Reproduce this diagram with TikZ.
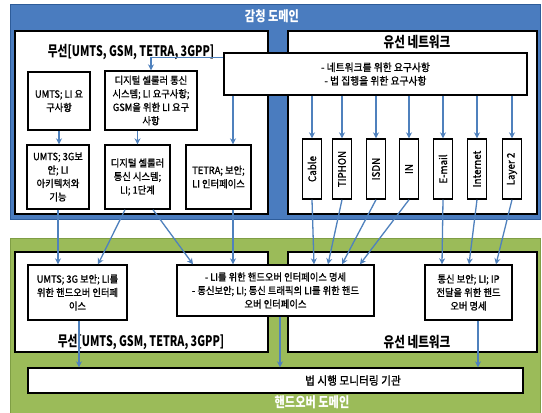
\documentclass[tikz,border=0pt]{standalone}
\usepackage{fontspec}
\usepackage{graphicx}
\setmainfont{Noto Sans CJK KR}[FakeStretch=0.93,FakeBold=1.2]
\newfontfamily\ttlfont{Noto Sans CJK KR}[FakeStretch=0.74]
\newfontfamily\dttlfont{Noto Sans CJK KR}[FakeStretch=0.8]
\usetikzlibrary{arrows.meta,calc}
\definecolor{dblue}{HTML}{4A7CBF}
\definecolor{dblueb}{HTML}{2E5C99}
\definecolor{dgreen}{HTML}{9BBB59}
\definecolor{dgreenb}{HTML}{7F9E45}
\definecolor{arrc}{HTML}{4F81BD}
\begin{document}
\begin{tikzpicture}[x=1pt,y=-1pt,
  box/.style={draw=black,line width=1.4pt,fill=white,inner sep=1pt,align=center,
    font=\fontsize{10}{13.5}\selectfont},
  vbox/.style={draw=black,line width=1.4pt,fill=white,inner sep=0pt,
    minimum width=19,minimum height=60,font=\fontsize{10.5}{11}\selectfont},
  panel/.style={draw=black,line width=1.4pt,fill=white},
  ptitle/.style={font=\ttlfont\bfseries\fontsize{14.5}{15}\selectfont,inner sep=0pt},
  wtitle/.style={font=\dttlfont\bfseries\fontsize{14.5}{15}\selectfont,inner sep=0pt},
  dtitle/.style={font=\dttlfont\bfseries\fontsize{14}{15}\selectfont,text=white,inner sep=0pt},
  arr/.style={-{Stealth[length=6pt,width=6pt]},draw=arrc,line width=1.3pt}]
\useasboundingbox (0,0) rectangle (542,413);
% domains
\fill[white] (0,0) rectangle (542,413);
\draw[fill=dblue,draw=dblueb,line width=1pt] (10,4) rectangle (540,219);
\draw[fill=dgreen,draw=dgreenb,line width=1pt] (10,238) rectangle (540,413);
\node[dtitle] (dtop) at (272,16) {감청 도메인};
\node[dtitle] (dbot) at (312,402) {핸드오버 도메인};
% panels
\draw[panel] (15,31) rectangle (268,214);
\draw[panel] (288,31) rectangle (537,214);
\draw[panel] (15,252) rectangle (268,352);
\draw[panel] (288,252) rectangle (537,352);
\node[ptitle] (t1) at (131,52) {무선[UMTS, GSM, TETRA, 3GPP]};
\node[wtitle] (t2) at (417,42) {유선 네트워크};
\node[ptitle] (t3) at (141,342) {무선[UMTS, GSM, TETRA, 3GPP]};
\node[wtitle] (t4) at (417,342) {유선 네트워크};
% upper boxes
\node[box,minimum width=303,minimum height=42,font=\fontsize{10.5}{13.5}\selectfont] (req) at (375.5,74)
  {- 네트워크를 위한 요구사항\\- 법 집행을 위한 요구사항};
\node[box,minimum width=62,minimum height=58] (umtsli) at (59,101) {UMTS; LI 요\\구사항};
\node[box,minimum width=92,minimum height=59] (dreq) at (151,100.5)
  {디지털 셀룰러 통신\\시스템; LI 요구사항;\\GSM을 위한 LI 요구\\사항};
\node[box,minimum width=62,minimum height=64] (umts3g) at (58,177) {UMTS; 3G보\\안; LI\\아키텍처와\\기능};
\node[box,minimum width=65,minimum height=64] (dli1) at (137.5,177) {디지털 셀룰러\\통신 시스템;\\LI; 1단계};
\node[box,minimum width=65,minimum height=64] (tetra) at (218.5,177) {TETRA; 보안;\\LI 인터페이스};
\node[vbox] (cable) at (312,169) {\rotatebox{90}{Cable}};
\node[vbox] (tiphon) at (342,169) {\rotatebox{90}{TIPHON}};
\node[vbox] (isdn) at (376,169) {\rotatebox{90}{ISDN}};
\node[vbox] (in) at (409,169) {\rotatebox{90}{IN}};
\node[vbox] (email) at (443,169) {\rotatebox{90}{E-mail}};
\node[vbox] (internet) at (477,169) {\rotatebox{90}{Internet}};
\node[vbox] (layer) at (512,169) {\rotatebox{90}{Layer 2}};
% lower boxes
\node[box,minimum width=99,minimum height=55] (umtsho) at (77.5,292.5)
  {UMTS; 3G 보안; LI를\\위한 핸드오버 인터페\\이스};
\node[box,minimum width=197,minimum height=51] (liho) at (275.5,290.5)
  {- LI를 위한 핸드오버 인터페이스 명세\\- 통신보안; LI; 통신 트래픽의 LI를 위한 핸드\\오버 인터페이스};
\node[box,minimum width=87,minimum height=55] (ipho) at (468.5,292.5)
  {통신 보안; LI; IP\\전달을 위한 핸드\\오버 명세};
\node[box,minimum width=495,minimum height=25] (mon) at (275.5,380.5) {};
\node[font=\fontsize{11.5}{13}\selectfont,inner sep=0pt] (montext) at (353,380.5) {법 시행 모니터링 기관};
% connectors upper
\coordinate (rq1) at ($(req.north west)+(0,5)$);
\draw[arr] (rq1) -| (dreq.north);
\coordinate (tin) at ($(tetra.north)+(14.5,0)$);
\draw[arr] (tin |- req.south) -- (tin);
\foreach \n in {cable,tiphon,isdn,in,email,internet,layer}
  \draw[arr] (\n.north |- req.south) -- (\n.north);
\draw[arr] (umtsli.south) -- (umtsli.south |- umts3g.north);
\draw[arr] (dli1.north |- dreq.south) -- (dli1.north);
% cross-domain
\draw[arr] (umts3g.south) -- (umts3g.south |- umtsho.north);
\draw[arr] ($(dli1.south)+(-12.5,0)$) -- ($(umtsho.north)+(20.5,0)$);
\draw[arr] ($(dli1.south)+(15.5,0)$) -- ($(liho.north)+(-82.5,0)$);
\draw[arr] (tin |- tetra.south) -- (tin |- liho.north);
\draw[arr] (cable.south) -- ($(liho.north)+(38.5,0)$);
\draw[arr] (tiphon.south) -- ($(liho.north)+(52.5,0)$);
\draw[arr] (isdn.south) -- ($(liho.north)+(66.5,0)$);
\draw[arr] (in.south) -- ($(liho.north)+(84.5,0)$);
\draw[arr] (email.south) -- ($(ipho.north)+(-26.5,0)$);
\draw[arr] (internet.south) -- ($(ipho.north)+(0.5,0)$);
\draw[arr] (layer.south) -- ($(ipho.north)+(27.5,0)$);
% to monitor
\coordinate (m1) at ($(umtsho.south)+(1.5,0)$);
\coordinate (m2) at ($(liho.south)+(4.5,0)$);
\coordinate (m3) at ($(ipho.south)+(9.5,0)$);
\draw[arr] (m1) -- (m1 |- mon.north);
\draw[arr] (m2) -- (m2 |- mon.north);
\draw[arr] (m3) -- (m3 |- mon.north);
\end{tikzpicture}
\end{document}
